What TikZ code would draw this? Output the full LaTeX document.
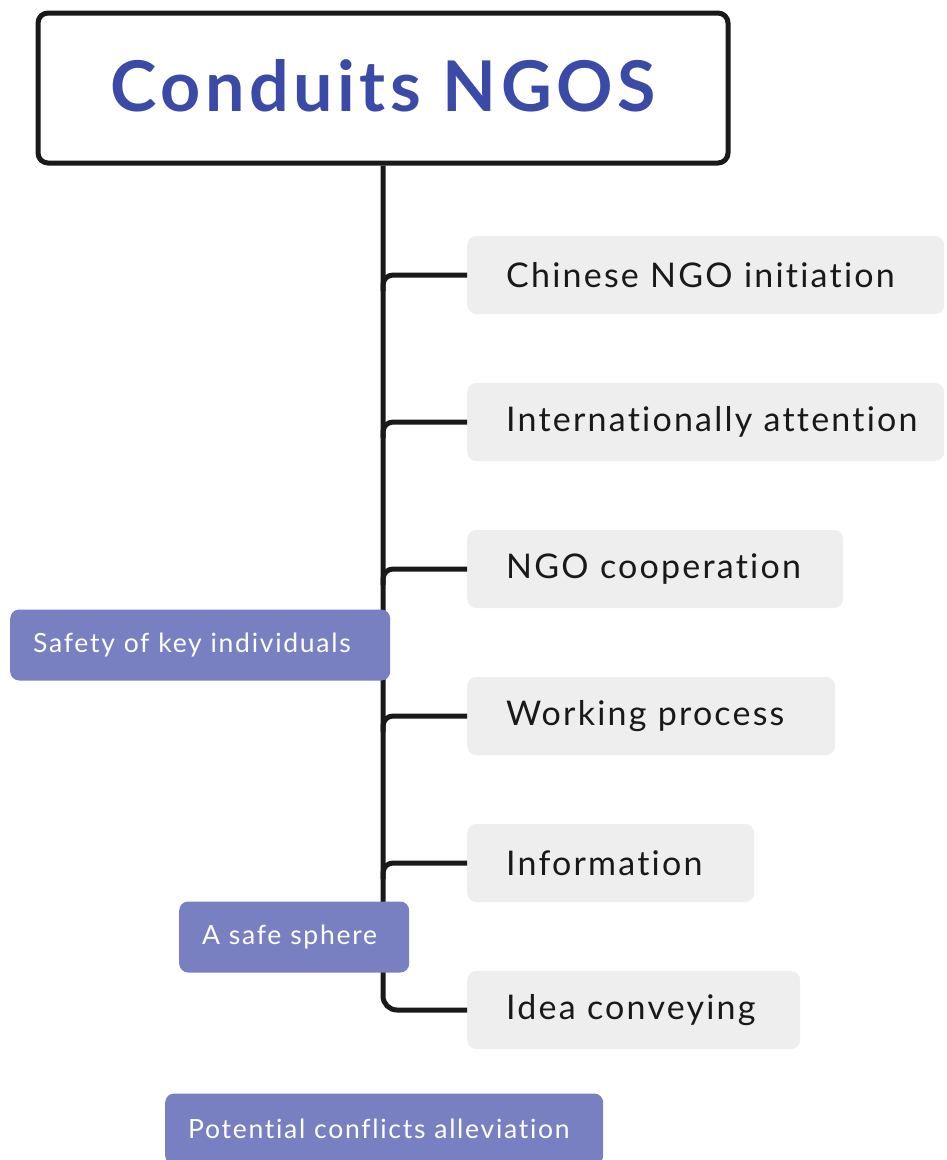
\documentclass[tikz,border=0pt]{standalone}
\usepackage{fontspec}
\setmainfont[Ligatures=CommonOff,LetterSpace=6.5]{Lato}
\newfontfamily\titlefont[Ligatures=CommonOff,LetterSpace=6.5]{Lato}
\definecolor{titleblue}{HTML}{3A4AA6}
\definecolor{boxgray}{HTML}{EEEEEE}
\definecolor{purp}{HTML}{7880C2}
\begin{document}
\begin{tikzpicture}[x=1pt,y=-1pt,
  conn/.style={line width=5pt,draw=black!90},
  graybox/.style={fill=boxgray,rounded corners=9pt,anchor=west,minimum height=78pt,inner xsep=39pt,inner ysep=0pt,align=left,font=\fontsize{34}{36}\selectfont,text=black!90},
  purpbox/.style={fill=purp,rounded corners=9pt,anchor=west,minimum height=71pt,inner xsep=23pt,inner ysep=0pt,align=left,font=\fontsize{26.5}{28}\selectfont,text=white}]
\useasboundingbox (0,0) rectangle (946,1160);
\node[draw=black!90,line width=5pt,rounded corners=10pt,minimum width=690pt,minimum height=150pt,font=\titlefont\fontsize{70}{74}\bfseries\selectfont,text=titleblue] (title) at (383,88) {\raisebox{6pt}{Conduits NGOS}};
\node[graybox,text width=399pt] (b1) at (467,275) {\mbox{Chinese NGO initiation}};
\node[graybox,text width=399pt] (b2) at (467,422) {\mbox{Internationally attention}};
\node[graybox,text width=298pt] (b3) at (467,569) {\mbox{NGO cooperation}};
\node[graybox,text width=290pt] (b4) at (467,716) {\mbox{Working process}};
\node[graybox,text width=209pt] (b5) at (467,863) {\mbox{Information}};
\node[graybox,text width=255pt] (b6) at (467,1010) {\mbox{Idea conveying}};
\draw[conn,rounded corners=14pt] (title.south) |- (b6.west);
\foreach \b in {b1,b2,b3,b4,b5}
  \draw[conn,rounded corners=10pt] ([yshift=-16pt]title.south |- \b.west) |- (\b.west);
\node[purpbox,text width=334pt] (p1) at (10,645) {\mbox{Safety of key individuals}};
\node[purpbox,text width=184pt] (p2) at (179,937) {\mbox{A safe sphere}};
\node[purpbox,text width=392pt] (p3) at (165,1129) {\mbox{Potential conflicts alleviation}};
\end{tikzpicture}
\end{document}
